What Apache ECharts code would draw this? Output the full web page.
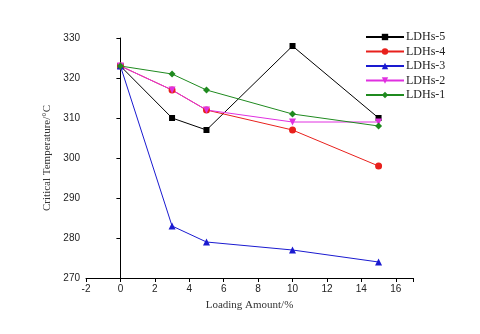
<!DOCTYPE html>
<html><head><meta charset="utf-8">
<script src="https://cdn.jsdelivr.net/npm/echarts@6/dist/echarts.min.js"></script>
<style>html,body{margin:0;padding:0;background:#fff}#c{width:480px;height:334px}</style>
</head><body><div id="c"></div>
<script>
var loading = [0, 3, 5, 10, 15];
var names = ['LDHs-5', 'LDHs-4', 'LDHs-3', 'LDHs-2', 'LDHs-1'];
var ldhs5 = [323, 310, 307, 328, 310];
var ldhs4 = [323, 317, 312, 307, 298];
var ldhs3 = [323, 283, 279, 277, 274];
var ldhs2 = [323, 317, 312, 309, 309];
var ldhs1 = [323, 321, 317, 311, 308];
var colors = ['#000000', '#e8201c', '#1a1ad0', '#e030e0', '#1f8a1f'];
var symbols = ['rect', 'circle', 'triangle', 'triangle', 'diamond'];
var rotates = [0, 0, 0, 180, 0];
var values = [ldhs5, ldhs4, ldhs3, ldhs2, ldhs1];

function pairs(v){ return loading.map(function(x,i){ return [x, v[i]]; }); }

var series = names.map(function(n, i){
  return {
    name: n, type: 'line', data: pairs(values[i]),
    symbol: symbols[i], symbolRotate: rotates[i],
    symbolSize: symbols[i]==='rect' ? 6 : 7,
    showAllSymbol: true,
    lineStyle: {color: colors[i], width: 1},
    itemStyle: {color: colors[i]},
    animation: false
  };
});

var chart = echarts.init(document.getElementById('c'));
chart.setOption({
  animation: false,
  grid: {left: 86, right: 67, top: 38, bottom: 56},
  legend: {
    orient: 'vertical', left: 360, top: 26, itemGap: 2.5,
    itemWidth: 38, itemHeight: 8,
    textStyle: {fontFamily: 'Liberation Serif', fontSize: 12, color: '#222', padding: [0,0,0,-3]},
    data: names
  },
  xAxis: {
    type: 'value', min: -2, max: 17, interval: 2,
    name: 'Loading Amount/%', nameLocation: 'middle', nameGap: 22,
    nameTextStyle: {fontFamily: 'Liberation Serif', fontSize: 11, color: '#333'},
    axisLine: {show: true, lineStyle: {color: '#000', width: 1}},
    axisTick: {show: true, inside: false, length: 4, lineStyle: {color: '#000'}},
    axisLabel: {fontFamily: 'Liberation Sans', fontSize: 10, color: '#222', margin: 6,
      formatter: function(v){ return v > 16 ? '' : String(v); }},
    splitLine: {show: false}
  },
  yAxis: {
    type: 'value', min: 270, max: 330, interval: 10,
    name: 'Critical Temperature/°C', nameLocation: 'middle', nameGap: 27, nameRotate: 90,
    nameTextStyle: {fontFamily: 'Liberation Serif', fontSize: 11, color: '#333'},
    axisLine: {show: true, lineStyle: {color: '#000', width: 1}},
    axisTick: {show: true, inside: false, length: 4, lineStyle: {color: '#000'}},
    axisLabel: {fontFamily: 'Liberation Sans', fontSize: 10, color: '#222', margin: 6},
    splitLine: {show: false}
  },
  series: series
});
</script></body></html>
